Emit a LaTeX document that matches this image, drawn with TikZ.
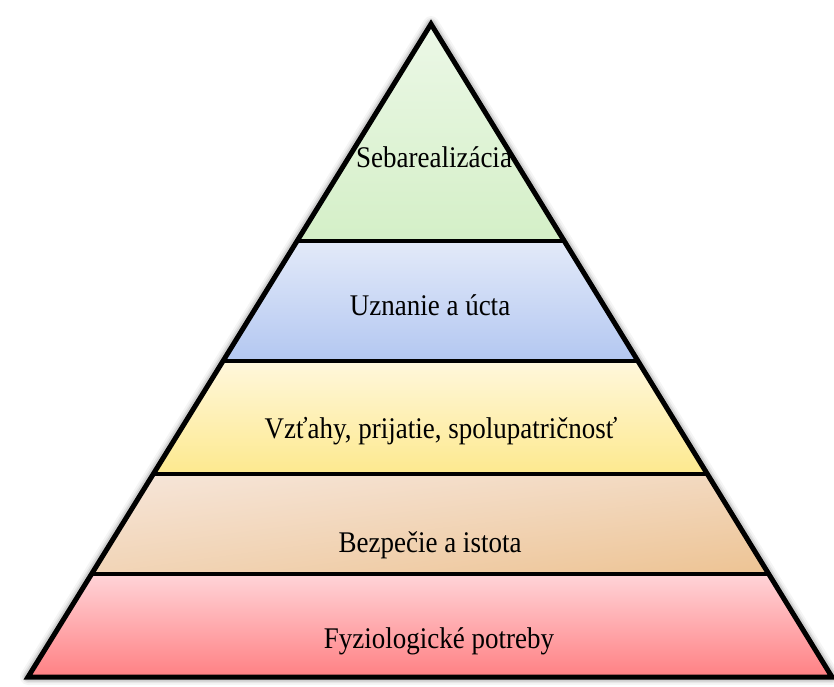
\documentclass[tikz,border=0pt]{standalone}
\usepackage{fontspec}
\setmainfont{Liberation Serif}
\usetikzlibrary{calc,shadings}
\definecolor{gTop}{HTML}{ECF8E7}
\definecolor{gBot}{HTML}{D4EFC7}
\definecolor{bTop}{HTML}{E3EAF9}
\definecolor{bBot}{HTML}{B3C7F1}
\definecolor{yTop}{HTML}{FFF7DC}
\definecolor{yBot}{HTML}{FDE98E}
\definecolor{pTop}{HTML}{F6E6DA}
\definecolor{pBot}{HTML}{EDC393}
\definecolor{rTop}{HTML}{FFD4D8}
\definecolor{rBot}{HTML}{FF8083}
\tikzset{
  edge/.style={line width=5pt, line join=miter, black},
  divider/.style={line width=4.5pt, black},
  glow/.style={line join=round, draw=black},
  label/.style={font=\fontsize{30}{36}\selectfont, inner sep=0pt, anchor=base}
}
\newcommand{\nar}[1]{\scalebox{0.9}[1]{#1}}
\begin{document}
\begin{tikzpicture}[x=1pt,y=-1pt]
\useasboundingbox (0,0) rectangle (834,686);
\coordinate (A) at (431,24);
\coordinate (BL) at (28,677);
\coordinate (BR) at (832,677);
\coordinate (L1) at ($(A)!0.3323!(BL)$);
\coordinate (R1) at ($(A)!0.3323!(BR)$);
\coordinate (L2) at ($(A)!0.5161!(BL)$);
\coordinate (R2) at ($(A)!0.5161!(BR)$);
\coordinate (L3) at ($(A)!0.6891!(BL)$);
\coordinate (R3) at ($(A)!0.6891!(BR)$);
\coordinate (L4) at ($(A)!0.8423!(BL)$);
\coordinate (R4) at ($(A)!0.8423!(BR)$);
% soft glow / shadow
\draw[glow, line width=16pt, draw opacity=0.04] (A) -- (BL) -- (BR) -- cycle;
\draw[glow, line width=12pt, draw opacity=0.06] (A) -- (BL) -- (BR) -- cycle;
\draw[glow, line width=9pt, draw opacity=0.10] (A) -- (BL) -- (BR) -- cycle;
% bands
\shade[top color=gTop, bottom color=gBot] (A) -- (L1) -- (R1) -- cycle;
\shade[top color=bTop, bottom color=bBot] (L1) -- (L2) -- (R2) -- (R1) -- cycle;
\shade[top color=yTop, bottom color=yBot] (L2) -- (L3) -- (R3) -- (R2) -- cycle;
\shade[upper left=pTop, upper right=pTop!60!pBot, lower left=pTop!50!pBot, lower right=pBot] (L3) -- (L4) -- (R4) -- (R3) -- cycle;
\shade[top color=rTop, bottom color=rBot] (L4) -- (BL) -- (BR) -- (R4) -- cycle;
% dividers
\draw[divider] (L1) -- (R1);
\draw[divider] (L2) -- (R2);
\draw[divider] (L3) -- (R3);
\draw[divider] (L4) -- (R4);
\draw[edge] (A) -- (BL) -- (BR) -- cycle;
% labels
\node[label] (t1) at (434,167) {\nar{Sebarealizácia}};
\node[label] (t2) at (430,315) {\nar{Uznanie a úcta}};
\node[label] (t3) at (441,438) {\nar{Vzťahy, prijatie, spolupatričnosť}};
\node[label] (t4) at (430,552) {\nar{Bezpečie a istota}};
\node[label] (t5) at (439,648) {\nar{Fyziologické potreby}};
\end{tikzpicture}
\end{document}
